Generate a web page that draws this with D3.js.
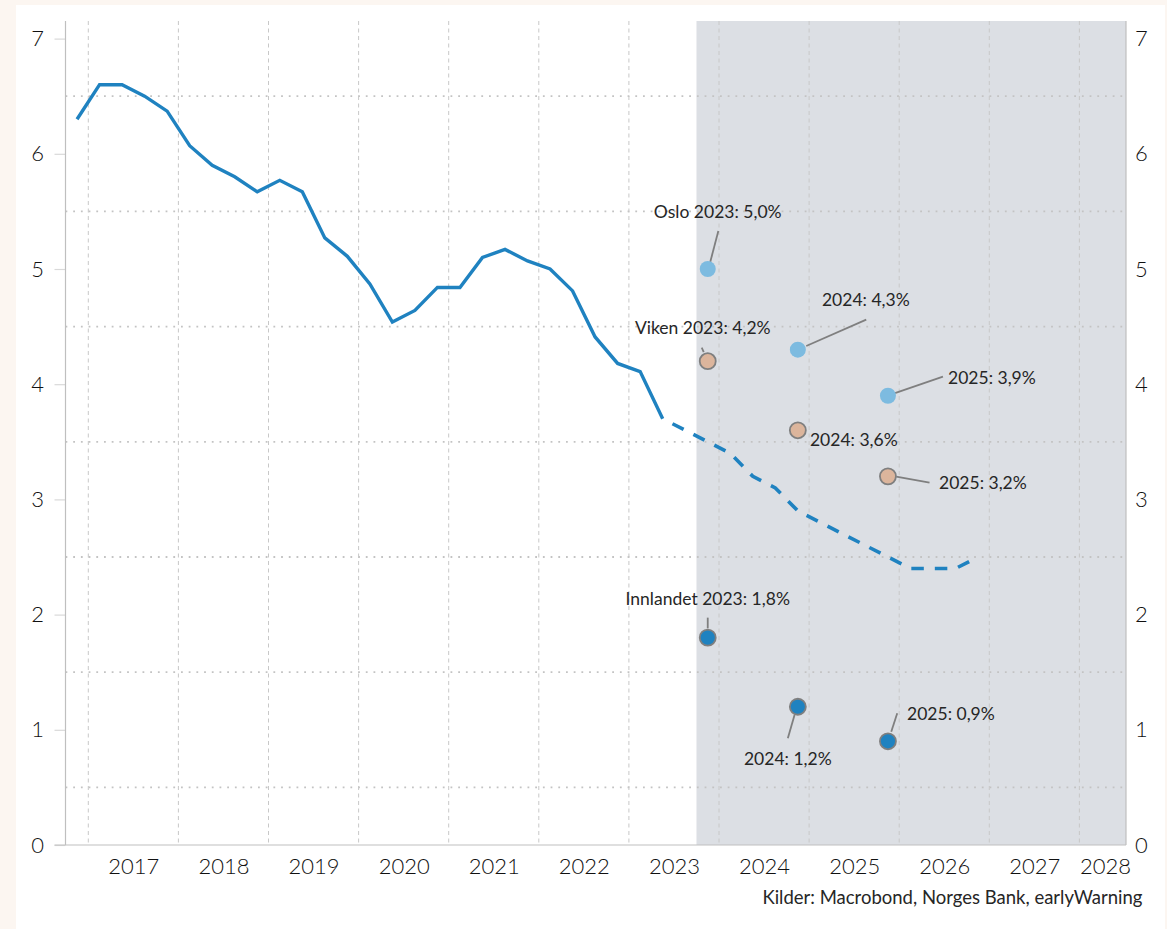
<!DOCTYPE html>
<html>
<head>
<meta charset="utf-8">
<script src="https://cdn.jsdelivr.net/npm/d3@7"></script>
<style>
  html, body { margin: 0; padding: 0; background: #fcf6f1; }
  svg { display: block; font-family: Lato, "Open Sans", sans-serif; }
</style>
</head>
<body>
<svg id="chart" width="1167" height="929"></svg>
<script>
// historical series (quarterly)
const historyQuarters = [
  "2016Q4",
  "2017Q1", "2017Q2", "2017Q3", "2017Q4",
  "2018Q1", "2018Q2", "2018Q3", "2018Q4",
  "2019Q1", "2019Q2", "2019Q3", "2019Q4",
  "2020Q1", "2020Q2", "2020Q3", "2020Q4",
  "2021Q1", "2021Q2", "2021Q3", "2021Q4",
  "2022Q1", "2022Q2", "2022Q3", "2022Q4",
  "2023Q1", "2023Q2"
];
const historyValues = [
  6.3,
  6.6, 6.6, 6.5, 6.37,
  6.07, 5.9, 5.8, 5.67,
  5.77, 5.67, 5.27, 5.11,
  4.87, 4.54, 4.64, 4.84,
  4.84, 5.1, 5.17, 5.07,
  5.0, 4.81, 4.41, 4.18,
  4.11, 3.7
];

// forecast (dashed)
const forecastQuarters = [
  "2023Q2", "2023Q3", "2023Q4",
  "2024Q1", "2024Q2", "2024Q3", "2024Q4",
  "2025Q1", "2025Q2", "2025Q3", "2025Q4",
  "2026Q1", "2026Q2", "2026Q3", "2026Q4"
];
const forecastValues = [
  3.7, 3.6, 3.5,
  3.4, 3.2, 3.1, 2.9,
  2.8, 2.7, 2.6, 2.5,
  2.4, 2.4, 2.4, 2.5
];

// shaded forecast period starts here
const shadeStartQuarter = "2023Q4";

// regional points
const regions = ["Oslo", "Viken", "Innlandet"];
const pointYears = [2023, 2024, 2025];
const osloValues = [5.0, 4.3, 3.9];
const vikenValues = [4.2, 3.6, 3.2];
const innlandetValues = [1.8, 1.2, 0.9];

const yearTicks = [2017, 2018, 2019, 2020, 2021, 2022, 2023, 2024, 2025, 2026, 2027, 2028];
const yTicks = [0, 1, 2, 3, 4, 5, 6, 7];
const halfGrid = [0.5, 1.5, 2.5, 3.5, 4.5, 5.5, 6.5];

const sourceText = "Kilder: Macrobond, Norges Bank, earlyWarning";

// styling
const regionStyle = {
  Oslo: { fill: "#7dbbe0", stroke: "none" },
  Viken: { fill: "#dcb59c", stroke: "#7f7f7f" },
  Innlandet: { fill: "#1f82c0", stroke: "#7f7f7f" }
};

// label placement relative to each point: text centre and leader line ends
const labelLayout = {
  Oslo: [
    { text: [10, -57], leader: [[2.5, -7], [10.6, -38]] },
    { text: [68, -50], leader: [[8.4, -3.6], [68.4, -30]] },
    { text: [104, -18], leader: [[7, -2.5], [55, -19]] }
  ],
  Viken: [
    { text: [-5, -33], leader: [[-4, -9], [-6, -13.5]] },
    { text: [56, 10], leader: null },
    { text: [95, 7], leader: [[8.3, 0.3], [41.6, 6.3]] }
  ],
  Innlandet: [
    { text: [0, -39], leader: [[0, -9.3], [0, -20]] },
    { text: [-10, 52], leader: [[-3.3, 8.2], [-10, 31.5]] },
    { text: [63, -27], leader: [[3.3, -9.5], [9.3, -28]] }
  ]
};

const plot = { left: 65.5, right: 1126, top: 21, bottom: 845 };
const lineColor = "#1f82c0";
const textColor = "#262626";

const x = d3.scaleLinear().domain([2017, 2028]).range([88.3, 1079.4]);
const y = d3.scaleLinear().domain([0, 7]).range([845, 38.6]);

function quarterMid(q) {
  return +q.slice(0, 4) + (+q[5] - 1) / 4 + 0.125;
}
function quarterStart(q) {
  return +q.slice(0, 4) + (+q[5] - 1) / 4;
}
function fmt(v) {
  return v.toFixed(1).replace(".", ",");
}

const svg = d3.select("#chart");

// white panel
svg.append("rect")
  .attr("x", 16).attr("y", 5)
  .attr("width", 1149).attr("height", 924)
  .attr("fill", "#ffffff");

// forecast shading
svg.append("rect")
  .attr("x", x(quarterStart(shadeStartQuarter)))
  .attr("y", plot.top)
  .attr("width", plot.right - x(quarterStart(shadeStartQuarter)))
  .attr("height", plot.bottom - plot.top)
  .attr("fill", "#dcdfe4");

// gridlines
svg.append("g")
  .selectAll("line")
  .data(halfGrid)
  .join("line")
  .attr("x1", plot.left).attr("x2", plot.right)
  .attr("y1", d => y(d)).attr("y2", d => y(d))
  .attr("stroke", "#c3c3c3")
  .attr("stroke-width", 1.8)
  .attr("stroke-dasharray", "1.8,5.9");

svg.append("g")
  .selectAll("line")
  .data(yearTicks)
  .join("line")
  .attr("x1", d => x(d)).attr("x2", d => x(d))
  .attr("y1", plot.top).attr("y2", plot.bottom)
  .attr("stroke", "#c8c8c8")
  .attr("stroke-width", 1)
  .attr("stroke-dasharray", "4,3.5");

// axes
const leftAxis = svg.append("g")
  .attr("transform", `translate(${plot.left},0)`)
  .call(d3.axisLeft(y).tickValues(yTicks).tickSize(11).tickPadding(10.5).tickFormat(d3.format("d")));

const rightAxis = svg.append("g")
  .attr("transform", `translate(${plot.right},0)`)
  .call(d3.axisRight(y).tickValues(yTicks).tickSize(0).tickPadding(9).tickFormat(d3.format("d")));

const bottomAxis = svg.append("g")
  .attr("transform", `translate(0,${plot.bottom})`)
  .call(d3.axisBottom(x).tickValues(yearTicks.map(d => d + 0.5)).tickSize(0).tickPadding(13.4)
    .tickFormat(d => Math.floor(d)));

[leftAxis, rightAxis, bottomAxis].forEach(g => {
  g.select(".domain").remove();
  g.selectAll("text")
    .attr("fill", "#111111")
    .style("font-size", "22px")
    .style("font-weight", 300)
    .style("font-family", "Lato, 'Open Sans', sans-serif");
});
leftAxis.selectAll(".tick line").attr("stroke", "#d9d9d9").attr("stroke-width", 1.2);

// keep the last year label inside the plot
bottomAxis.selectAll(".tick text").each(function () {
  const box = this.getBBox();
  const tick = this.parentNode.transform.baseVal.consolidate().matrix.e;
  const right = tick + box.x + box.width;
  if (right > plot.right + 5) {
    d3.select(this).attr("x", plot.right + 5 - right);
  }
});

// axis lines
const axisColor = "#bfbfbf";
svg.append("line")
  .attr("x1", plot.left).attr("x2", plot.left)
  .attr("y1", plot.top).attr("y2", plot.bottom)
  .attr("stroke", axisColor).attr("stroke-width", 1.2);
svg.append("line")
  .attr("x1", plot.right).attr("x2", plot.right)
  .attr("y1", plot.top).attr("y2", plot.bottom)
  .attr("stroke", axisColor).attr("stroke-width", 1.2);
svg.append("line")
  .attr("x1", plot.left - 11).attr("x2", plot.right)
  .attr("y1", plot.bottom).attr("y2", plot.bottom)
  .attr("stroke", axisColor).attr("stroke-width", 1.2);

// lines
const line = d3.line()
  .x(d => x(d.t))
  .y(d => y(d.v));

const history = historyQuarters.map((q, i) => ({ t: quarterMid(q), v: historyValues[i] }));
const forecast = forecastQuarters.map((q, i) => ({ t: quarterMid(q), v: forecastValues[i] }));

svg.append("path")
  .datum(history)
  .attr("d", line)
  .attr("fill", "none")
  .attr("stroke", lineColor)
  .attr("stroke-width", 3.4);

svg.append("path")
  .datum(forecast)
  .attr("d", line)
  .attr("fill", "none")
  .attr("stroke", lineColor)
  .attr("stroke-width", 3.6)
  .attr("stroke-dasharray", "12.5,11")
  .attr("stroke-dashoffset", 12.5);

// regional points with labels
const regionValues = { Oslo: osloValues, Viken: vikenValues, Innlandet: innlandetValues };
const points = [];
regions.forEach(r => {
  pointYears.forEach((yr, i) => {
    points.push({ region: r, year: yr, value: regionValues[r][i], layout: labelLayout[r][i], first: i === 0 });
  });
});

const pts = svg.append("g");

pts.selectAll("line")
  .data(points.filter(d => d.layout.leader))
  .join("line")
  .attr("x1", d => x(d.year + 0.875) + d.layout.leader[0][0])
  .attr("y1", d => y(d.value) + d.layout.leader[0][1])
  .attr("x2", d => x(d.year + 0.875) + d.layout.leader[1][0])
  .attr("y2", d => y(d.value) + d.layout.leader[1][1])
  .attr("stroke", "#7f7f7f")
  .attr("stroke-width", 1.8);

pts.selectAll("circle")
  .data(points)
  .join("circle")
  .attr("cx", d => x(d.year + 0.875))
  .attr("cy", d => y(d.value))
  .attr("r", 8)
  .attr("fill", d => regionStyle[d.region].fill)
  .attr("stroke", d => regionStyle[d.region].stroke)
  .attr("stroke-width", 1.8);

pts.selectAll("text")
  .data(points)
  .join("text")
  .attr("x", d => x(d.year + 0.875) + d.layout.text[0])
  .attr("y", d => y(d.value) + d.layout.text[1])
  .attr("dy", "0.35em")
  .attr("text-anchor", "middle")
  .attr("fill", textColor)
  .style("font-size", "17.5px")
  .text(d => d.first ? `${d.region} ${d.year}: ${fmt(d.value)}%` : `${d.year}: ${fmt(d.value)}%`);

// source
svg.append("text")
  .attr("x", 1142.5)
  .attr("y", 904)
  .attr("text-anchor", "end")
  .attr("fill", textColor)
  .style("font-size", "18.5px")
  .text(sourceText);
</script>
</body>
</html>
